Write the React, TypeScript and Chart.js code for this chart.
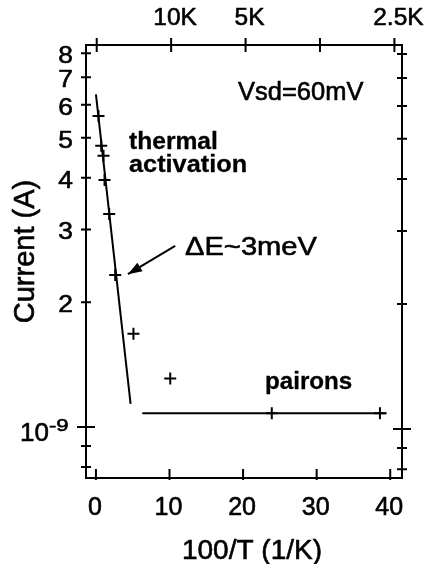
import React, { useEffect, useRef } from 'react';
import { Chart, registerables } from 'chart.js';

Chart.register(...registerables);

// ---- data (current in units of 1e-9 A) ----
const invT = [0.35, 0.72, 1.03, 1.17, 1.8, 2.62, 5.1, 10.1, 23.9, 38.6];
const currentNA = [5.64, 4.78, 4.52, 3.95, 3.27, 2.33, 1.68, 1.31, 1.08, 1.08];
const thermalFitX = [0, 4.71];
const thermalFitY = [6.36, 1.137];
const paironsFitX = [6.3, 39.5];
const paironsFitY = [1.08, 1.08];
const arrowX = [10.77, 4.35];
const arrowY = [2.74, 2.34];

// ---- ticks ----
const xTicks = [0, 10, 20, 30, 40];
const xTickLabels = ['0', '10', '20', '30', '40'];
const topTicks = [0, 10, 20, 30, 40];
const topTickLabels = ['', '10K', '5K', '', '2.5K'];
const yTicks = [8, 7, 6, 5, 4, 3, 2, 1, 0.9, 0.8];
const yTickLabels = ['8', '7', '6', '5', '4', '3', '2', '10', '', ''];
const yMajor = [false, false, false, false, false, false, false, true, false, false];

const E = 1e-9;
const FAM = '"Liberation Sans", Arial, Helvetica, sans-serif';

function txt(
  ctx: CanvasRenderingContext2D,
  s: string,
  x: number,
  y: number,
  font: string,
  align: CanvasTextAlign,
  sx = 1,
  heavy = 0.6
) {
  ctx.save();
  ctx.font = font;
  ctx.fillStyle = '#000';
  ctx.strokeStyle = '#000';
  ctx.textAlign = align;
  ctx.textBaseline = 'alphabetic';
  ctx.translate(x, y);
  ctx.scale(sx, 1);
  ctx.fillText(s, 0, 0);
  if (heavy > 0) {
    ctx.lineWidth = heavy;
    ctx.lineJoin = 'round';
    ctx.strokeText(s, 0, 0);
  }
  ctx.restore();
}

const decorPlugin = {
  id: 'decor',
  afterDraw(chart: any) {
    const ctx: CanvasRenderingContext2D = chart.ctx;
    const xs = chart.scales.x;
    const xt = chart.scales.x2;
    const ys = chart.scales.y;
    const yr = chart.scales.y2;
    const area = chart.chartArea;
    ctx.save();
    ctx.strokeStyle = '#000';
    ctx.lineWidth = 2;
    ctx.beginPath();
    // bottom ticks
    xTicks.forEach((v) => {
      const px = xs.getPixelForValue(v);
      ctx.moveTo(px, area.bottom - 9);
      ctx.lineTo(px, area.bottom + 2);
    });
    // top ticks
    topTicks.forEach((v) => {
      const px = xt.getPixelForValue(v);
      ctx.moveTo(px, area.top - 7);
      ctx.lineTo(px, area.top + 7);
    });
    // left / right ticks
    yTicks.forEach((v, i) => {
      const l = yMajor[i] ? 9 : 5;
      const pl = ys.getPixelForValue(v * E);
      ctx.moveTo(area.left - l, pl);
      ctx.lineTo(area.left + l, pl);
      const pr = yr.getPixelForValue(v * E);
      ctx.moveTo(area.right - l, pr);
      ctx.lineTo(area.right + l, pr);
    });
    ctx.stroke();

    // arrow head
    const hx = xs.getPixelForValue(arrowX[1]);
    const hy = ys.getPixelForValue(arrowY[1] * E);
    const tx = xs.getPixelForValue(arrowX[0]);
    const ty = ys.getPixelForValue(arrowY[0] * E);
    const d = Math.hypot(tx - hx, ty - hy);
    const ux = (tx - hx) / d;
    const uy = (ty - hy) / d;
    const L = 14;
    const W = 5;
    ctx.fillStyle = '#000';
    ctx.beginPath();
    ctx.moveTo(hx, hy);
    ctx.lineTo(hx + ux * L - uy * W, hy + uy * L + ux * W);
    ctx.lineTo(hx + ux * L + uy * W, hy + uy * L - ux * W);
    ctx.closePath();
    ctx.fill();
    ctx.restore();

    // tick labels
    xTicks.forEach((v, i) => {
      txt(ctx, xTickLabels[i], xs.getPixelForValue(v) - 1, 515, `25px ${FAM}`, 'center');
    });
    topTicks.forEach((v, i) => {
      if (topTickLabels[i])
        txt(ctx, topTickLabels[i], xt.getPixelForValue(v) + 4, 25, `24px ${FAM}`, 'center', 1.02);
    });
    yTicks.forEach((v, i) => {
      const lab = yTickLabels[i];
      if (!lab) return;
      const py = ys.getPixelForValue(v * E);
      if (yMajor[i]) {
        txt(ctx, lab, 49, py + 14.5, `26px ${FAM}`, 'right');
        txt(ctx, '-9', 49, py + 4.5, `17px ${FAM}`, 'left', 1.3);
      } else {
        txt(ctx, lab, 73, py + 10, `24px ${FAM}`, 'right', 1.1);
      }
    });

    // axis titles
    ctx.save();
    ctx.translate(33.5, 251.5);
    ctx.rotate(-Math.PI / 2);
    txt(ctx, 'Current (A)', 0, 0, `29px ${FAM}`, 'center');
    ctx.restore();
    txt(ctx, '100/T (1/K)', 252, 559, `28px ${FAM}`, 'center');

    // annotations
    txt(ctx, 'Vsd=60mV', 238, 100, `25px ${FAM}`, 'left', 1.02);
    txt(ctx, 'thermal', 129, 148.5, `bold 23px ${FAM}`, 'left', 1.07, 0.3);
    txt(ctx, 'activation', 129, 171.5, `bold 23px ${FAM}`, 'left', 1.1, 0.3);
    txt(ctx, '\u0394E~3meV', 185, 255, `26px ${FAM}`, 'left', 1.12);
    txt(ctx, 'pairons', 265, 388.5, `bold 23px ${FAM}`, 'left', 1.05, 0.3);
  },
};

export default function App() {
  const ref = useRef<HTMLCanvasElement | null>(null);
  useEffect(() => {
    if (!ref.current) return;
    const hidden = { display: false, drawTicks: false };
    const border = { display: true, color: '#000', width: 2 };
    const chart = new Chart(ref.current, {
      type: 'line',
      data: {
        datasets: [
          {
            data: invT.map((x, i) => ({ x, y: currentNA[i] * E })),
            showLine: false,
            pointStyle: 'cross',
            pointRadius: 6,
            pointBorderWidth: 2,
            borderColor: '#000',
            backgroundColor: '#000',
            xAxisID: 'x',
            yAxisID: 'y',
          },
          {
            data: thermalFitX.map((x, i) => ({ x, y: thermalFitY[i] * E })),
            borderColor: '#000',
            borderWidth: 2,
            pointRadius: 0,
            xAxisID: 'x',
            yAxisID: 'y',
          },
          {
            data: paironsFitX.map((x, i) => ({ x, y: paironsFitY[i] * E })),
            borderColor: '#000',
            borderWidth: 2,
            pointRadius: 0,
            xAxisID: 'x',
            yAxisID: 'y',
          },
          {
            data: arrowX.map((x, i) => ({ x, y: arrowY[i] * E })),
            borderColor: '#000',
            borderWidth: 2,
            pointRadius: 0,
            xAxisID: 'x',
            yAxisID: 'y',
          },
        ],
      } as any,
      options: {
        animation: false,
        responsive: true,
        maintainAspectRatio: false,
        layout: { padding: { left: 86, top: 45, right: 31, bottom: 86 } },
        plugins: { legend: { display: false }, tooltip: { enabled: false } },
        events: [],
        scales: {
          x: {
            type: 'linear',
            position: 'bottom',
            min: -1.35,
            max: 41.6,
            grid: hidden,
            ticks: { display: false },
            border,
          },
          x2: {
            type: 'linear',
            position: 'top',
            min: -1.44,
            max: 41.02,
            grid: hidden,
            ticks: { display: false },
            border,
          },
          y: {
            type: 'logarithmic',
            position: 'left',
            min: 0.753 * E,
            max: 8.37 * E,
            grid: hidden,
            ticks: { display: false },
            border,
          },
          y2: {
            type: 'logarithmic',
            position: 'right',
            min: 0.762 * E,
            max: 8.41 * E,
            grid: hidden,
            ticks: { display: false },
            border,
          },
        },
      } as any,
      plugins: [decorPlugin],
    });
    return () => chart.destroy();
  }, []);
  return (
    <div style={{ position: 'fixed', left: 0, top: 0, width: 433, height: 564, background: '#fff' }}>
      <canvas ref={ref} />
    </div>
  );
}
